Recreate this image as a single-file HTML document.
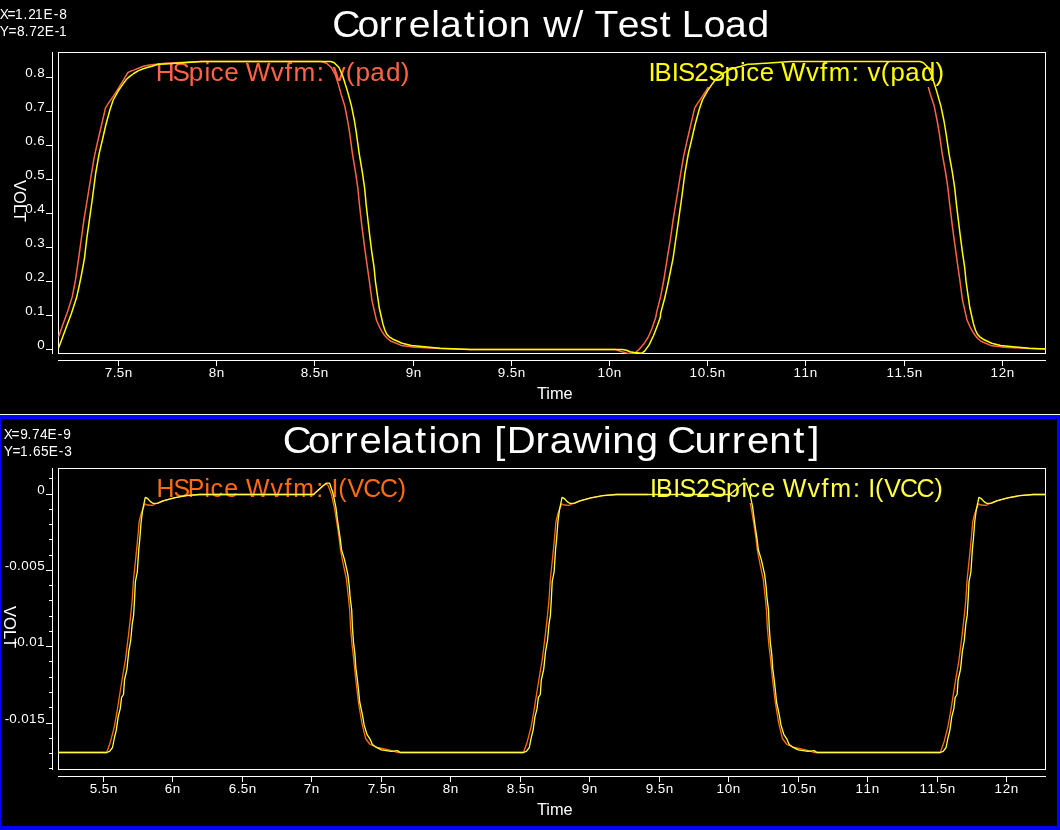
<!DOCTYPE html>
<html><head><meta charset="utf-8"><style>
html,body{margin:0;padding:0;background:#000;width:1060px;height:830px;overflow:hidden}
svg{display:block;will-change:transform}
text{font-family:"Liberation Sans",sans-serif;white-space:pre}
</style></head><body>
<svg width="1060" height="830" viewBox="0 0 1060 830">
<defs>
<clipPath id="clipTop"><rect x="58" y="52" width="988" height="302"/></clipPath>
<clipPath id="clipBot"><rect x="58" y="468" width="988" height="302"/></clipPath>
</defs>
<rect width="1060" height="830" fill="#000"/>
<rect x="0" y="414" width="1060" height="1" fill="#f4f4ec"/>
<rect x="0" y="415" width="1060" height="4" fill="#0000ff"/>
<rect x="0" y="826" width="1060" height="4" fill="#0000ff"/>
<rect x="0" y="415" width="1" height="415" fill="#0000ff"/>
<rect x="1057" y="415" width="3" height="415" fill="#0000ff"/>
<rect x="58" y="52" width="988" height="1" fill="#fff"/>
<rect x="58" y="353" width="988" height="1" fill="#fff"/>
<rect x="58" y="52" width="1" height="302" fill="#fff"/>
<rect x="1045" y="52" width="1" height="302" fill="#fff"/>
<rect x="52" y="52" width="1" height="302" fill="#fff"/>
<rect x="58" y="360" width="988" height="1" fill="#fff"/>
<text transform="translate(536.94,399.00) scale(0.9604,1)" font-size="17.07" fill="#ffffff">Time</text>
<rect x="58" y="468" width="988" height="1" fill="#fff"/>
<rect x="58" y="769" width="988" height="1" fill="#fff"/>
<rect x="58" y="468" width="1" height="302" fill="#fff"/>
<rect x="1045" y="468" width="1" height="302" fill="#fff"/>
<rect x="52" y="468" width="1" height="302" fill="#fff"/>
<rect x="58" y="776" width="988" height="1" fill="#fff"/>
<text transform="translate(536.94,815.00) scale(0.9604,1)" font-size="17.07" fill="#ffffff">Time</text>
<rect x="46" y="77" width="6" height="1" fill="#fff"/>
<text x="24.06 31.55 35.49" transform="translate(0,77.00) scale(1.0500,1)" font-size="12.80" fill="#ffffff">0.8</text>
<rect x="46" y="111" width="6" height="1" fill="#fff"/>
<text x="24.06 31.55 35.48" transform="translate(0,111.00) scale(1.0500,1)" font-size="12.80" fill="#ffffff">0.7</text>
<rect x="46" y="145" width="6" height="1" fill="#fff"/>
<text x="24.06 31.55 35.44" transform="translate(0,145.00) scale(1.0500,1)" font-size="12.80" fill="#ffffff">0.6</text>
<rect x="46" y="179" width="6" height="1" fill="#fff"/>
<text x="24.06 31.55 35.50" transform="translate(0,179.00) scale(1.0500,1)" font-size="12.80" fill="#ffffff">0.5</text>
<rect x="46" y="213" width="6" height="1" fill="#fff"/>
<text x="24.06 31.55 35.53" transform="translate(0,213.00) scale(1.0500,1)" font-size="12.80" fill="#ffffff">0.4</text>
<rect x="46" y="247" width="6" height="1" fill="#fff"/>
<text x="24.06 31.55 35.53" transform="translate(0,247.00) scale(1.0500,1)" font-size="12.80" fill="#ffffff">0.3</text>
<rect x="46" y="281" width="6" height="1" fill="#fff"/>
<text x="24.06 31.55 35.49" transform="translate(0,281.00) scale(1.0500,1)" font-size="12.80" fill="#ffffff">0.2</text>
<rect x="46" y="315" width="6" height="1" fill="#fff"/>
<text x="24.06 31.55 35.32" transform="translate(0,315.00) scale(1.0500,1)" font-size="12.80" fill="#ffffff">0.1</text>
<rect x="46" y="349" width="6" height="1" fill="#fff"/>
<text x="35.49" transform="translate(0,349.00) scale(1.0500,1)" font-size="12.80" fill="#ffffff">0</text>
<rect x="118" y="361" width="1" height="5" fill="#fff"/>
<text x="99.77 107.27 111.22 118.82" transform="translate(0,377.00) scale(1.0500,1)" font-size="12.80" fill="#ffffff">7.5n</text>
<rect x="216" y="361" width="1" height="5" fill="#fff"/>
<text x="198.82 206.43" transform="translate(0,377.00) scale(1.0500,1)" font-size="12.80" fill="#ffffff">8n</text>
<rect x="314" y="361" width="1" height="5" fill="#fff"/>
<text x="286.44 293.93 297.88 305.48" transform="translate(0,377.00) scale(1.0500,1)" font-size="12.80" fill="#ffffff">8.5n</text>
<rect x="413" y="361" width="1" height="5" fill="#fff"/>
<text x="386.44 394.05" transform="translate(0,377.00) scale(1.0500,1)" font-size="12.80" fill="#ffffff">9n</text>
<rect x="511" y="361" width="1" height="5" fill="#fff"/>
<text x="474.06 481.55 485.50 493.10" transform="translate(0,377.00) scale(1.0500,1)" font-size="12.80" fill="#ffffff">9.5n</text>
<rect x="609" y="361" width="1" height="5" fill="#fff"/>
<text x="569.13 576.92 584.53" transform="translate(0,377.00) scale(1.0500,1)" font-size="12.80" fill="#ffffff">10n</text>
<rect x="707" y="361" width="1" height="5" fill="#fff"/>
<text x="656.74 664.54 672.03 675.98 683.58" transform="translate(0,377.00) scale(1.0500,1)" font-size="12.80" fill="#ffffff">10.5n</text>
<rect x="805" y="361" width="1" height="5" fill="#fff"/>
<text x="755.79 763.41 771.20" transform="translate(0,377.00) scale(1.0500,1)" font-size="12.80" fill="#ffffff">11n</text>
<rect x="904" y="361" width="1" height="5" fill="#fff"/>
<text x="844.36 851.98 859.65 863.60 871.20" transform="translate(0,377.00) scale(1.0500,1)" font-size="12.80" fill="#ffffff">11.5n</text>
<rect x="1002" y="361" width="1" height="5" fill="#fff"/>
<text x="943.41 951.20 958.82" transform="translate(0,377.00) scale(1.0500,1)" font-size="12.80" fill="#ffffff">12n</text>
<text transform="translate(14.00,180.10) rotate(90) scale(0.9669,1)" font-size="17.07" fill="#ffffff">VOLT</text>
<rect x="49" y="478" width="3" height="1" fill="#fff"/>
<rect x="46" y="494" width="6" height="1" fill="#fff"/>
<rect x="49" y="509" width="3" height="1" fill="#fff"/>
<rect x="49" y="524" width="3" height="1" fill="#fff"/>
<rect x="49" y="539" width="3" height="1" fill="#fff"/>
<rect x="49" y="555" width="3" height="1" fill="#fff"/>
<rect x="46" y="570" width="6" height="1" fill="#fff"/>
<rect x="49" y="585" width="3" height="1" fill="#fff"/>
<rect x="49" y="600" width="3" height="1" fill="#fff"/>
<rect x="49" y="616" width="3" height="1" fill="#fff"/>
<rect x="49" y="631" width="3" height="1" fill="#fff"/>
<rect x="46" y="646" width="6" height="1" fill="#fff"/>
<rect x="49" y="661" width="3" height="1" fill="#fff"/>
<rect x="49" y="677" width="3" height="1" fill="#fff"/>
<rect x="49" y="692" width="3" height="1" fill="#fff"/>
<rect x="49" y="707" width="3" height="1" fill="#fff"/>
<rect x="46" y="723" width="6" height="1" fill="#fff"/>
<rect x="49" y="738" width="3" height="1" fill="#fff"/>
<rect x="49" y="753" width="3" height="1" fill="#fff"/>
<rect x="49" y="768" width="3" height="1" fill="#fff"/>
<text x="35.49" transform="translate(0,494.00) scale(1.0500,1)" font-size="12.80" fill="#ffffff">0</text>
<text x="4.54 8.82 16.32 20.25 27.87 35.50" transform="translate(0,570.00) scale(1.0500,1)" font-size="12.80" fill="#ffffff">-0.005</text>
<text x="12.15 16.44 23.93 27.87 35.32" transform="translate(0,646.00) scale(1.0500,1)" font-size="12.80" fill="#ffffff">-0.01</text>
<text x="4.54 8.82 16.32 20.25 27.70 35.50" transform="translate(0,723.00) scale(1.0500,1)" font-size="12.80" fill="#ffffff">-0.015</text>
<rect x="103" y="777" width="1" height="5" fill="#fff"/>
<text x="85.50 92.98 96.93 104.53" transform="translate(0,793.00) scale(1.0500,1)" font-size="12.80" fill="#ffffff">5.5n</text>
<rect x="172" y="777" width="1" height="5" fill="#fff"/>
<text x="156.87 164.53" transform="translate(0,793.00) scale(1.0500,1)" font-size="12.80" fill="#ffffff">6n</text>
<rect x="242" y="777" width="1" height="5" fill="#fff"/>
<text x="217.82 225.36 229.31 236.91" transform="translate(0,793.00) scale(1.0500,1)" font-size="12.80" fill="#ffffff">6.5n</text>
<rect x="311" y="777" width="1" height="5" fill="#fff"/>
<text x="289.29 296.91" transform="translate(0,793.00) scale(1.0500,1)" font-size="12.80" fill="#ffffff">7n</text>
<rect x="381" y="777" width="1" height="5" fill="#fff"/>
<text x="350.24 357.74 361.69 369.29" transform="translate(0,793.00) scale(1.0500,1)" font-size="12.80" fill="#ffffff">7.5n</text>
<rect x="450" y="777" width="1" height="5" fill="#fff"/>
<text x="421.68 429.29" transform="translate(0,793.00) scale(1.0500,1)" font-size="12.80" fill="#ffffff">8n</text>
<rect x="520" y="777" width="1" height="5" fill="#fff"/>
<text x="482.63 490.13 494.07 501.67" transform="translate(0,793.00) scale(1.0500,1)" font-size="12.80" fill="#ffffff">8.5n</text>
<rect x="589" y="777" width="1" height="5" fill="#fff"/>
<text x="554.06 561.67" transform="translate(0,793.00) scale(1.0500,1)" font-size="12.80" fill="#ffffff">9n</text>
<rect x="659" y="777" width="1" height="5" fill="#fff"/>
<text x="615.01 622.51 626.45 634.05" transform="translate(0,793.00) scale(1.0500,1)" font-size="12.80" fill="#ffffff">9.5n</text>
<rect x="728" y="777" width="1" height="5" fill="#fff"/>
<text x="682.46 690.25 697.86" transform="translate(0,793.00) scale(1.0500,1)" font-size="12.80" fill="#ffffff">10n</text>
<rect x="798" y="777" width="1" height="5" fill="#fff"/>
<text x="743.41 751.20 758.70 762.64 770.24" transform="translate(0,793.00) scale(1.0500,1)" font-size="12.80" fill="#ffffff">10.5n</text>
<rect x="867" y="777" width="1" height="5" fill="#fff"/>
<text x="814.84 822.46 830.24" transform="translate(0,793.00) scale(1.0500,1)" font-size="12.80" fill="#ffffff">11n</text>
<rect x="937" y="777" width="1" height="5" fill="#fff"/>
<text x="875.79 883.41 891.08 895.03 902.63" transform="translate(0,793.00) scale(1.0500,1)" font-size="12.80" fill="#ffffff">11.5n</text>
<rect x="1006" y="777" width="1" height="5" fill="#fff"/>
<text x="947.22 955.01 962.63" transform="translate(0,793.00) scale(1.0500,1)" font-size="12.80" fill="#ffffff">12n</text>
<text transform="translate(4.00,606.00) rotate(90) scale(0.9715,1)" font-size="17.07" fill="#ffffff">VOLT</text>
<text x="314.87 338.75 359.02 372.99 387.54 408.79 417.00 439.86 452.40 461.46 482.35 503.80 514.95 542.67 553.87 563.53 585.52 605.99 625.26 637.39 646.14 667.16 687.11 708.55" transform="translate(0,37.00) scale(1.0550,1)" font-size="36.98" fill="#ffffff">Correlation w/ Test Load</text>
<text x="266.04 289.64 309.91 323.83 338.25 359.56 367.58 390.48 403.01 411.89 432.69 454.18 464.92 476.61 503.68 517.19 539.06 567.04 576.01 598.08 618.99 627.59 653.39 674.32 688.24 702.66 723.52 746.19 760.38" transform="translate(0,453.00) scale(1.0631,1)" font-size="37.70" fill="#ffffff">Correlation [Drawing Current]</text>
<text x="-0.20 8.39 16.67 26.11 31.32 39.01 48.40 59.69 65.82" transform="translate(0,18.90) scale(0.9000,1)" font-size="15.22" fill="#ffffff">X=1.21E-8</text>
<text x="-0.19 9.50 18.99 27.38 32.43 41.16 49.63 60.80 65.56" transform="translate(0,35.90) scale(0.9000,1)" font-size="15.22" fill="#ffffff">Y=8.72E-1</text>
<text x="4.30 12.89 22.44 30.66 35.65 44.59 52.85 64.13 70.32" transform="translate(0,438.90) scale(0.9000,1)" font-size="15.22" fill="#ffffff">X=9.74E-9</text>
<text x="4.31 13.89 22.23 31.66 36.72 45.67 54.07 65.24 71.37" transform="translate(0,455.90) scale(0.9000,1)" font-size="15.22" fill="#ffffff">Y=1.65E-3</text>
<g clip-path="url(#clipTop)">
<polyline points="58.7,336.7 62.7,325.1 67.6,311.6 72.4,296.2 75.5,280.0 78.7,257.8 81.1,240.5 84.0,219.3 87.2,200.0 90.9,177.0 94.3,156.8 97.7,141.4 101.2,126.5 105.5,107.8 107.7,104.4 112.0,98.1 116.8,90.8 121.6,83.1 125.0,77.3 127.9,72.5 130.3,71.3 133.7,70.1 138.5,68.2 143.3,66.3 148.1,65.3 152.0,64.8 158.3,63.9 165.0,63.2 180.0,62.6 200.0,61.5 321.2,61.5 326.5,63.2 331.3,67.5 335.1,74.3 338.0,82.9 340.9,93.5 344.8,106.1 347.6,120.5 349.5,132.0 352.5,154.1 355.4,171.4 357.8,187.8 359.5,205.0 362.0,227.2 364.5,246.4 367.3,266.7 369.5,282.0 371.9,300.1 376.5,320.3 379.5,327.0 382.0,331.6 384.5,335.2 387.5,338.5 391.1,341.3 401.2,345.4 414.9,347.3 440.0,348.4 470.0,349.5 615.2,349.5 622.0,351.7 628.8,353.6 635.0,352.8 639.0,349.5 643.5,344.3 648.0,337.5 652.0,328.5 655.7,317.5 656.8,311.6 660.7,296.2 663.8,280.0 667.3,257.8 670.2,240.5 673.2,219.3 676.4,200.0 680.1,177.0 683.5,156.8 686.9,141.4 690.4,126.5 694.7,107.8 696.9,104.4 701.2,98.1 706.0,90.8 710.8,83.1 714.2,77.3 717.1,72.5 719.5,71.3 722.9,70.1 727.7,68.2 732.5,66.3 737.3,65.3 741.2,64.8 747.5,63.9 754.2,63.2 769.2,62.6 789.2,61.5 910.4,61.5 915.7,63.2 920.5,67.5 924.3,74.3 927.2,82.9 930.1,93.5 934.2,106.1 937.1,120.5 939.1,132.0 942.3,154.1 945.4,171.4 947.9,187.8 949.8,205.0 952.5,227.2 955.1,246.4 957.9,266.7 960.1,282.0 962.5,300.1 967.1,320.3 970.1,327.0 972.6,331.6 975.1,335.2 977.7,338.5 981.0,341.3 990.6,345.4 1004.1,347.3 1029.2,348.4 1059.2,349.5" fill="none" stroke="#ff6347" stroke-width="1.5" stroke-linejoin="round" />
</g>
<text x="152.56 169.01 184.95 200.29 206.23 219.53 233.95 240.67 265.07 278.97 287.37 310.19 317.74 325.60 338.75 348.20 362.68 378.16 392.52" transform="translate(0,81.00) scale(1.0210,1)" font-size="25.60" fill="#ff6347">HSpice Wvfm: v(pad)</text>
<rect x="648" y="56" width="298" height="31" fill="#000"/>
<text x="645.06 650.91 668.18 674.24 690.55 704.47 720.58 736.04 742.08 755.54 770.08 776.98 801.59 815.61 824.18 847.18 854.81 862.79 876.07 885.66 900.30 915.95 930.48" transform="translate(0,81.00) scale(1.0055,1)" font-size="25.60" fill="#ffff00">IBIS2Spice Wvfm: v(pad)</text>
<g clip-path="url(#clipTop)">
<polyline points="58.7,347.8 65.6,329.0 71.4,313.6 76.5,297.8 79.4,284.8 81.9,272.5 84.5,258.1 86.6,240.0 88.8,224.1 92.2,200.0 95.7,173.2 99.1,153.9 102.5,139.5 105.8,125.0 109.8,110.3 113.2,100.0 118.3,90.8 122.6,84.6 126.5,79.3 129.8,76.4 133.7,73.5 138.5,70.6 143.3,68.7 148.1,67.2 152.0,66.3 158.3,64.3 165.0,63.9 180.0,63.0 202.0,61.5 330.8,61.5 334.2,62.7 339.0,67.5 342.8,76.2 347.6,91.6 351.5,106.1 354.4,120.5 355.9,130.0 359.3,154.1 362.2,171.4 364.6,187.8 366.2,205.0 369.3,232.0 371.7,251.3 374.1,267.7 375.5,282.0 379.2,307.5 382.9,323.9 384.8,330.0 386.8,334.2 389.3,336.8 393.0,339.2 402.1,343.2 411.3,345.4 440.0,348.3 470.0,349.5 622.5,349.5 626.5,350.2 629.9,351.7 634.4,352.5 641.8,353.2 644.6,351.1 649.1,344.9 653.7,335.2 657.6,325.0 660.4,317.0 660.6,313.6 664.8,297.8 667.7,284.8 670.2,272.5 673.1,258.1 675.7,240.0 678.0,224.1 681.4,200.0 684.9,173.2 688.3,153.9 691.7,139.5 695.0,125.0 699.0,110.3 702.4,100.0 707.5,90.8 711.8,84.6 715.7,79.3 719.0,76.4 722.9,73.5 727.7,70.6 732.5,68.7 737.3,67.2 741.2,66.3 747.5,64.3 754.2,63.9 769.2,63.0 791.2,61.5 920.0,61.5 923.4,62.7 928.2,67.5 932.0,76.2 936.8,91.6 940.9,106.1 943.9,120.5 945.5,130.0 949.1,154.1 952.2,171.4 954.7,187.8 956.5,205.0 959.8,232.0 962.3,251.3 964.7,267.7 966.1,282.0 969.8,307.5 973.5,323.9 975.4,330.0 977.4,334.2 979.7,336.8 983.1,339.2 991.7,343.2 1000.7,345.4 1029.2,348.3 1059.2,349.5" fill="none" stroke="#ffff00" stroke-width="1.5" stroke-linejoin="round" />
</g>
<g clip-path="url(#clipBot)">
<polyline points="57.0,752.5 106.7,752.5 110.5,741.7 114.4,726.3 117.3,709.9 119.7,694.5 122.0,680.0 125.4,659.8 128.3,636.6 130.7,615.4 132.2,600.0 133.5,579.8 135.9,556.6 137.8,537.3 139.1,522.0 141.0,514.0 144.9,503.8 147.0,505.0 152.9,505.3 155.5,503.8 163.1,500.8 174.1,497.8 186.0,495.7 199.6,494.5 220.0,494.5 313.7,494.5 315.6,492.4 322.3,486.6 325.7,483.7 328.1,485.6 331.5,494.5 334.4,507.8 336.8,522.3 339.2,538.7 340.5,550.0 343.5,565.4 346.4,578.9 348.3,596.3 349.8,611.7 350.5,627.0 352.0,644.3 353.5,656.8 355.4,676.1 357.3,692.5 358.4,702.0 361.8,722.6 365.6,738.5 370.1,744.5 377.6,747.5 389.0,749.8 397.3,752.5 435.0,752.5 523.5,752.5 527.3,741.7 531.2,726.3 534.1,709.9 536.5,694.5 538.8,680.0 542.2,659.8 545.1,636.6 547.5,615.4 549.0,600.0 550.3,579.8 552.7,556.6 554.6,537.3 555.9,522.0 557.8,514.0 561.7,503.8 563.8,505.0 569.7,505.3 572.3,503.8 579.9,500.8 590.9,497.8 602.8,495.7 616.4,494.5 636.8,494.5 730.5,494.5 732.4,492.4 739.1,486.6 742.5,483.7 744.9,485.6 748.3,494.5 751.2,507.8 753.6,522.3 756.0,538.7 757.3,550.0 760.3,565.4 763.2,578.9 765.1,596.3 766.6,611.7 767.3,627.0 768.8,644.3 770.3,656.8 772.2,676.1 774.1,692.5 775.2,702.0 778.6,722.6 782.4,738.5 786.9,744.5 794.4,747.5 805.8,749.8 814.1,752.5 851.8,752.5 940.3,752.5 944.1,741.7 948.0,726.3 950.9,709.9 953.3,694.5 955.6,680.0 959.0,659.8 961.9,636.6 964.3,615.4 965.8,600.0 967.1,579.8 969.5,556.6 971.4,537.3 972.7,522.0 974.6,514.0 978.5,503.8 980.6,505.0 986.5,505.3 989.1,503.8 996.7,500.8 1007.7,497.8 1019.6,495.7 1033.2,494.5 1053.6,494.5 1047.0,494.5" fill="none" stroke="#ff6c10" stroke-width="1.3" stroke-linejoin="round" />
</g>
<text x="161.27 178.82 193.48 210.55 216.95 230.91 245.86 253.33 278.62 293.06 302.20 325.77 333.69 341.40 348.44 357.88 374.12 391.33 409.78" transform="translate(0,497.00) scale(0.9708,1)" font-size="25.60" fill="#ff6c10">HSPice Wvfm: I(VCC)</text>
<rect x="648" y="472" width="298" height="31" fill="#000"/>
<text x="665.36 671.56 689.16 695.53 712.27 726.61 743.14 758.90 765.23 779.07 793.92 801.26 826.39 840.74 849.75 873.18 881.03 888.68 895.66 904.99 921.09 938.16 956.48" transform="translate(0,497.00) scale(0.9770,1)" font-size="25.60" fill="#ffff44">IBIS2Spice Wvfm: I(VCC)</text>
<g clip-path="url(#clipBot)">
<polyline points="57.0,752.5 106.7,752.5 109.6,751.3 112.5,747.5 114.4,737.8 116.3,730.1 118.2,716.6 120.2,708.9 121.6,697.3 123.5,694.5 124.5,680.0 126.9,669.4 128.8,651.1 130.7,640.5 132.2,624.1 133.6,615.4 134.5,600.0 135.4,581.7 137.3,572.0 138.8,548.9 139.8,539.3 141.1,522.0 142.7,509.7 145.3,497.4 147.8,498.7 150.4,501.6 152.9,503.3 158.0,503.1 163.1,500.8 174.1,497.8 186.0,495.7 199.6,494.5 220.0,494.5 313.7,494.5 315.6,492.4 322.3,486.6 326.2,483.2 329.6,483.2 333.0,493.3 335.8,506.8 337.8,522.3 340.2,538.7 341.6,550.0 344.5,559.6 347.8,574.1 349.3,586.6 350.2,598.2 351.7,609.8 352.4,627.0 353.5,642.3 354.9,653.9 355.9,668.4 357.3,679.0 358.8,692.5 359.7,702.0 362.5,715.1 364.1,724.9 367.1,734.7 370.1,739.2 372.4,744.5 375.4,746.8 381.4,749.8 391.2,751.3 397.3,750.6 400.3,752.5 435.0,752.5 523.5,752.5 526.4,751.3 529.3,747.5 531.2,737.8 533.1,730.1 535.0,716.6 537.0,708.9 538.4,697.3 540.3,694.5 541.3,680.0 543.7,669.4 545.6,651.1 547.5,640.5 549.0,624.1 550.4,615.4 551.3,600.0 552.2,581.7 554.1,572.0 555.6,548.9 556.6,539.3 557.9,522.0 559.5,509.7 562.1,497.4 564.6,498.7 567.2,501.6 569.7,503.3 574.8,503.1 579.9,500.8 590.9,497.8 602.8,495.7 616.4,494.5 636.8,494.5 730.5,494.5 732.4,492.4 739.1,486.6 743.0,483.2 746.4,483.2 749.8,493.3 752.6,506.8 754.6,522.3 757.0,538.7 758.4,550.0 761.3,559.6 764.6,574.1 766.1,586.6 767.0,598.2 768.5,609.8 769.2,627.0 770.3,642.3 771.7,653.9 772.7,668.4 774.1,679.0 775.6,692.5 776.5,702.0 779.3,715.1 780.9,724.9 783.9,734.7 786.9,739.2 789.2,744.5 792.2,746.8 798.2,749.8 808.0,751.3 814.1,750.6 817.1,752.5 851.8,752.5 940.3,752.5 943.2,751.3 946.1,747.5 948.0,737.8 949.9,730.1 951.8,716.6 953.8,708.9 955.2,697.3 957.1,694.5 958.1,680.0 960.5,669.4 962.4,651.1 964.3,640.5 965.8,624.1 967.2,615.4 968.1,600.0 969.0,581.7 970.9,572.0 972.4,548.9 973.4,539.3 974.7,522.0 976.3,509.7 978.9,497.4 981.4,498.7 984.0,501.6 986.5,503.3 991.6,503.1 996.7,500.8 1007.7,497.8 1019.6,495.7 1033.2,494.5 1053.6,494.5 1047.0,494.5" fill="none" stroke="#ffff44" stroke-width="1.3" stroke-linejoin="round" />
</g>
</svg>
</body></html>
